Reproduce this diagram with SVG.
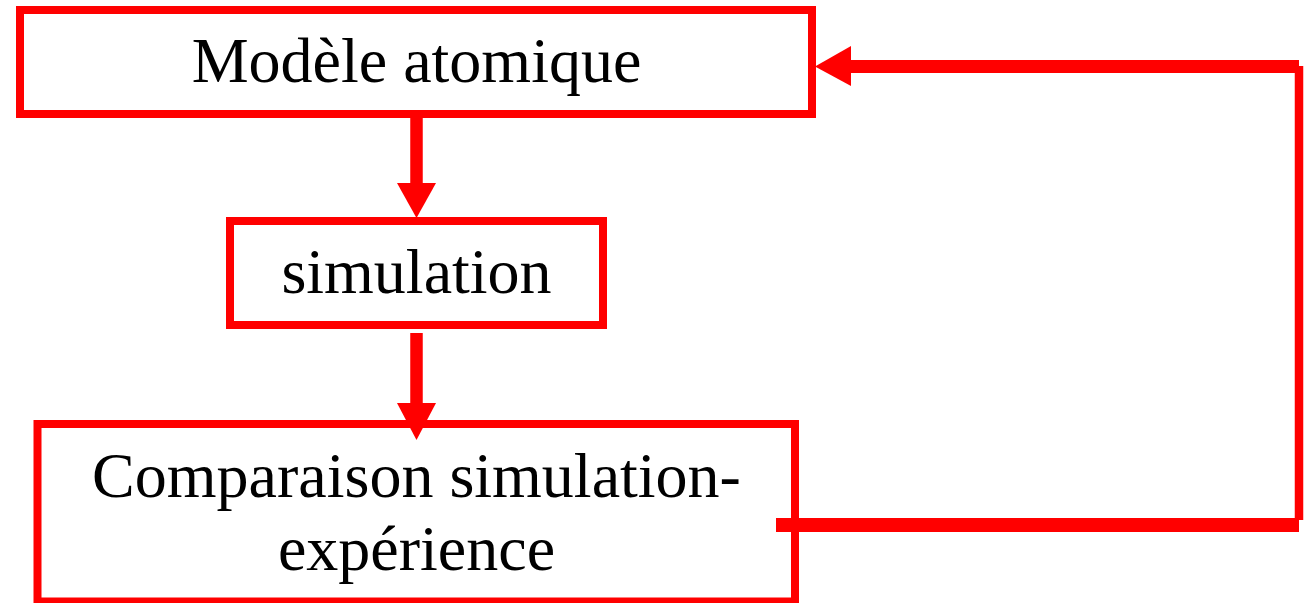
<svg xmlns="http://www.w3.org/2000/svg" width="1304" height="603" viewBox="0 0 1304 603">
<style>
.box{fill:#ffffff;stroke:#ff0000;stroke-width:8}
.lbl{font-family:"Liberation Serif","Times New Roman",serif;font-size:64px;fill:#000000;text-anchor:middle}
.ln{stroke:#ff0000;fill:none;stroke-linecap:butt}
.hd{fill:#ff0000;stroke:none}
</style>
<rect width="1304" height="603" fill="#ffffff"/>
<g id="node-modele">
<rect class="box" x="20" y="10" width="792" height="104"/>
<text class="lbl" x="416.5" y="82">Modèle atomique</text>
</g>
<g id="node-simulation">
<rect class="box" x="230" y="221" width="373" height="104"/>
<text class="lbl" x="416.5" y="293">simulation</text>
</g>
<g id="node-comparaison">
<rect class="box" x="37.5" y="424" width="757.5" height="177.5"/>
<text class="lbl" x="416.5" y="497">Comparaison simulation-</text>
<text class="lbl" x="416.5" y="570">expérience</text>
</g>
<g id="connectors">
<line class="ln" x1="416.5" y1="118" x2="416.5" y2="184" stroke-width="12.5"/>
<polygon class="hd" points="397,183 436,183 416.5,218"/>
<line class="ln" x1="416.5" y1="333" x2="416.5" y2="404" stroke-width="12.5"/>
<polygon class="hd" points="397,403 436,403 416.5,440"/>
<line class="ln" x1="776" y1="525" x2="1299" y2="525" stroke-width="14"/>
<line class="ln" x1="1299" y1="520" x2="1299" y2="66" stroke-width="8.5"/>
<line class="ln" x1="1299" y1="66.5" x2="850" y2="66.5" stroke-width="13"/>
<polygon class="hd" points="851,46 851,86 815,66.5"/>
</g>
</svg>
